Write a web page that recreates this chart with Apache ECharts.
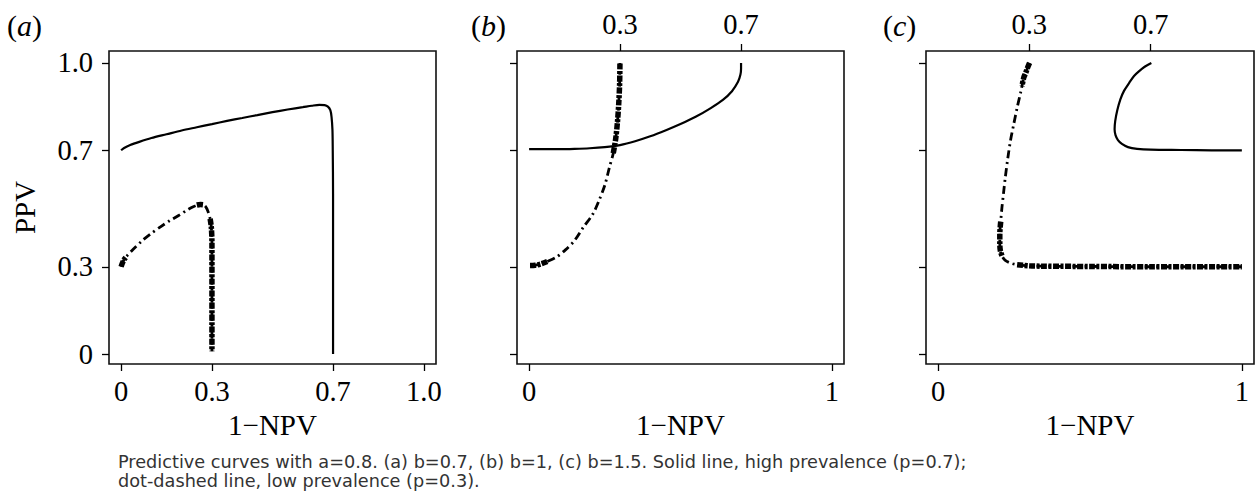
<!DOCTYPE html>
<html>
<head>
<meta charset="utf-8">
<script src="https://cdn.jsdelivr.net/npm/echarts@6/dist/echarts.min.js"></script>
<style>
    html, body {margin: 0; padding: 0; background: #fff;}
    #graph {width: 1257px; height: 494px;}
</style>
</head>
<body>
<div id="graph"></div>
<script>
// tick positions / labels
var yTicks = [0, 0.3, 0.7, 1.0];
var xTicksA = [0, 0.3, 0.7, 1.0];
var xTicksBottom = [0, 1];
var xTicksTop = [0.3, 0.7];
var panelNames = ['a', 'b', 'c'];

// (a) b=0.7   solid: p=0.7, dot-dashed: p=0.3
var highA = [[0,0.70],[0.01,0.708],[0.03,0.718],[0.06,0.729],[0.1,0.742],[0.15,0.755],[0.2,0.768],[0.25,0.779],
    [0.3,0.79],[0.35,0.801],[0.4,0.811],[0.45,0.821],[0.5,0.831],[0.55,0.84],[0.6,0.848],[0.63,0.853],[0.655,0.856],
    [0.672,0.855],[0.683,0.85],[0.691,0.838],[0.695,0.815],[0.698,0.77],[0.699,0.7],[0.7,0.55],[0.7,0.3],[0.7,0]];
var lowA = [[0,0.30],[0.004,0.312],[0.01,0.325],[0.02,0.338],[0.04,0.36],[0.07,0.39],[0.1,0.415],[0.13,0.437],
    [0.16,0.458],[0.19,0.476],[0.22,0.496],[0.24,0.507],[0.255,0.513],[0.268,0.514],[0.278,0.508],[0.287,0.49],
    [0.294,0.465],[0.298,0.435],[0.3,0.38],[0.3,0.25],[0.3,0.1],[0.3,0.01]];
var lowAHeavy1 = [[0,0.30],[0.004,0.312],[0.01,0.325],[0.015,0.332]];
var lowAHeavy2 = [[0.25,0.512],[0.262,0.514],[0.272,0.513]];
var lowAHeavy3 = [[0.294,0.465],[0.298,0.435],[0.3,0.38],[0.3,0.25],[0.3,0.1],[0.3,0.01]];

// (b) b=1
var highB = [[0,0.704],[0.05,0.704],[0.1,0.704],[0.15,0.705],[0.2,0.707],[0.25,0.711],[0.3,0.718],[0.35,0.731],
    [0.4,0.748],[0.45,0.768],[0.5,0.79],[0.55,0.815],[0.6,0.845],[0.64,0.873],[0.67,0.903],[0.69,0.935],
    [0.698,0.96],[0.7,0.98],[0.7,1.0]];
var lowB = [[0.003,0.304],[0.02,0.305],[0.04,0.31],[0.06,0.318],[0.09,0.333],[0.12,0.358],[0.15,0.39],[0.18,0.437],
    [0.21,0.48],[0.23,0.525],[0.25,0.58],[0.265,0.64],[0.278,0.69],[0.286,0.74],[0.292,0.8],[0.296,0.86],
    [0.299,0.93],[0.3,1.0]];
var lowBHeavy1 = [[0.003,0.304],[0.02,0.305],[0.04,0.31],[0.06,0.318]];
var lowBHeavy2 = [[0.278,0.69],[0.286,0.74],[0.292,0.8],[0.296,0.86],[0.299,0.93],[0.3,1.0]];

// (c) b=1.5
var highC = [[0.702,1.0],[0.68,0.987],[0.66,0.97],[0.645,0.955],[0.63,0.933],[0.612,0.904],[0.6,0.875],[0.59,0.838],
    [0.583,0.8],[0.581,0.772],[0.584,0.752],[0.592,0.735],[0.605,0.722],[0.625,0.711],[0.655,0.705],[0.7,0.702],
    [0.8,0.701],[0.9,0.7],[1.0,0.7]];
var lowC = [[0.301,1.0],[0.295,0.985],[0.288,0.965],[0.282,0.95],[0.272,0.9],[0.26,0.846],[0.249,0.79],[0.238,0.732],
    [0.229,0.67],[0.221,0.606],[0.215,0.55],[0.21,0.503],[0.206,0.455],[0.203,0.411],[0.203,0.38],[0.205,0.354],
    [0.211,0.335],[0.221,0.322],[0.24,0.312],[0.26,0.307],[0.3,0.303],[0.337,0.302],[0.5,0.301],[0.7,0.30],
    [0.85,0.30],[1.0,0.30]];
var lowCHeavy1 = [[0.301,1.0],[0.295,0.985],[0.288,0.965],[0.282,0.95],[0.276,0.92]];
var lowCHeavy2 = [[0.206,0.455],[0.203,0.411],[0.203,0.38],[0.205,0.354],[0.211,0.335]];
var lowCHeavy3 = [[0.26,0.307],[0.3,0.303],[0.337,0.302],[0.5,0.301],[0.7,0.30],[0.85,0.30],[1.0,0.30]];

var caption = 'Predictive curves with a=0.8. (a) b=0.7, (b) b=1, (c) b=1.5. Solid line, high prevalence (p=0.7);\n' +
    'dot-dashed line, low prevalence (p=0.3).';

var serif = '"Liberation Serif", "Times New Roman", Times, serif';

var page_graph = document.getElementById('graph');
var ctx_graph = echarts.init(page_graph, null, {renderer: 'svg'});

function labelFmt(intLabels) {
    return function (v) {
        if (v === 0) return '0';
        if (intLabels) return String(Math.round(v));
        return v.toFixed(1);
    };
}

function xAxisCfg(grid, ticks, pos, intLabels, showName) {
    return {
        type: 'value',
        gridIndex: grid,
        position: pos,
        min: -0.04,
        max: 1.04,
        name: showName ? '1\u2212NPV' : '',
        nameLocation: 'middle',
        nameGap: 37,
        nameTextStyle: {fontFamily: serif, fontSize: 29, color: '#000'},
        axisLine: {show: false, onZero: false},
        splitLine: {show: false},
        axisTick: {show: true, inside: false, length: 7, customValues: ticks,
            lineStyle: {color: '#000', width: 1.3}},
        axisLabel: {show: true, customValues: ticks, margin: pos === 'top' ? 12 : 13, formatter: labelFmt(intLabels),
            fontFamily: serif, fontSize: 28.5, color: '#000'}
    };
}

function yAxisCfg(grid, showLabels) {
    return {
        type: 'value',
        gridIndex: grid,
        min: -0.034,
        max: 1.041,
        name: showLabels ? 'PPV' : '',
        nameLocation: 'middle',
        nameGap: 70,
        nameTextStyle: {fontFamily: serif, fontSize: 29, color: '#000'},
        axisLine: {show: false, onZero: false},
        splitLine: {show: false},
        axisTick: {show: true, inside: false, length: 7, customValues: yTicks,
            lineStyle: {color: '#000', width: 1.3}},
        axisLabel: {show: showLabels, customValues: yTicks, margin: 16, formatter: labelFmt(false),
            fontFamily: serif, fontSize: 28.5, color: '#000'}
    };
}

function solid(xi, yi, d) {
    return {type: 'line', xAxisIndex: xi, yAxisIndex: yi, data: d, showSymbol: false, symbol: 'none',
        smooth: 0.3, lineStyle: {color: '#000', width: 2.2, type: 'solid'}, silent: true, animation: false};
}
function dotdash(xi, yi, d) {
    return {type: 'line', xAxisIndex: xi, yAxisIndex: yi, data: d, showSymbol: false, symbol: 'none',
        smooth: 0.3, lineStyle: {color: '#000', width: 2.8, type: [8, 4, 2, 4]}, silent: true, animation: false};
}
function heavy(xi, yi, d) {
    return {type: 'line', xAxisIndex: xi, yAxisIndex: yi, data: d, showSymbol: false, symbol: 'none',
        smooth: 0.3, lineStyle: {color: '#000', width: 5.5, type: [6, 1.5, 3, 1.5]}, silent: true, animation: false};
}

var gridBox = {show: true, borderColor: '#111', borderWidth: 1.6, backgroundColor: 'transparent'};

var titles = [];
var labelLeft = [7, 471, 883];
for (var i = 0; i < 3; i++) {
    titles.push({
        text: '{p|(}{i|' + panelNames[i] + '}{p|)}',
        left: labelLeft[i],
        top: 10,
        padding: 0,
        textStyle: {
            rich: {
                p: {fontFamily: serif, fontSize: 30, fontWeight: 'normal', color: '#000'},
                i: {fontFamily: serif, fontSize: 30, fontWeight: 'normal', fontStyle: 'italic', color: '#000'}
            }
        }
    });
}
titles.push({
    text: caption,
    left: 118,
    top: 452,
    padding: 0,
    textStyle: {fontFamily: '"DejaVu Sans", sans-serif', fontSize: 17.7, fontWeight: 'normal',
        color: '#333', lineHeight: 19.5}
});

ctx_graph.setOption({
    animation: false,
    title: titles,
    grid: [
        Object.assign({left: 109, top: 51, width: 327, height: 313}, gridBox),
        Object.assign({left: 517, top: 51, width: 327, height: 313}, gridBox),
        Object.assign({left: 926, top: 51, width: 328, height: 313}, gridBox)
    ],
    xAxis: [
        xAxisCfg(0, xTicksA, 'bottom', false, true),
        xAxisCfg(1, xTicksBottom, 'bottom', true, true),
        xAxisCfg(2, xTicksBottom, 'bottom', true, true),
        xAxisCfg(1, xTicksTop, 'top', false, false),
        xAxisCfg(2, xTicksTop, 'top', false, false)
    ],
    yAxis: [
        yAxisCfg(0, true),
        yAxisCfg(1, false),
        yAxisCfg(2, false)
    ],
    series: [
        solid(0, 0, highA),
        dotdash(0, 0, lowA),
        heavy(0, 0, lowAHeavy1),
        heavy(0, 0, lowAHeavy2),
        heavy(0, 0, lowAHeavy3),
        solid(1, 1, highB),
        dotdash(1, 1, lowB),
        heavy(1, 1, lowBHeavy1),
        heavy(1, 1, lowBHeavy2),
        solid(2, 2, highC),
        dotdash(2, 2, lowC),
        heavy(2, 2, lowCHeavy1),
        heavy(2, 2, lowCHeavy2),
        heavy(2, 2, lowCHeavy3)
    ]
});
</script>
</body>
</html>
